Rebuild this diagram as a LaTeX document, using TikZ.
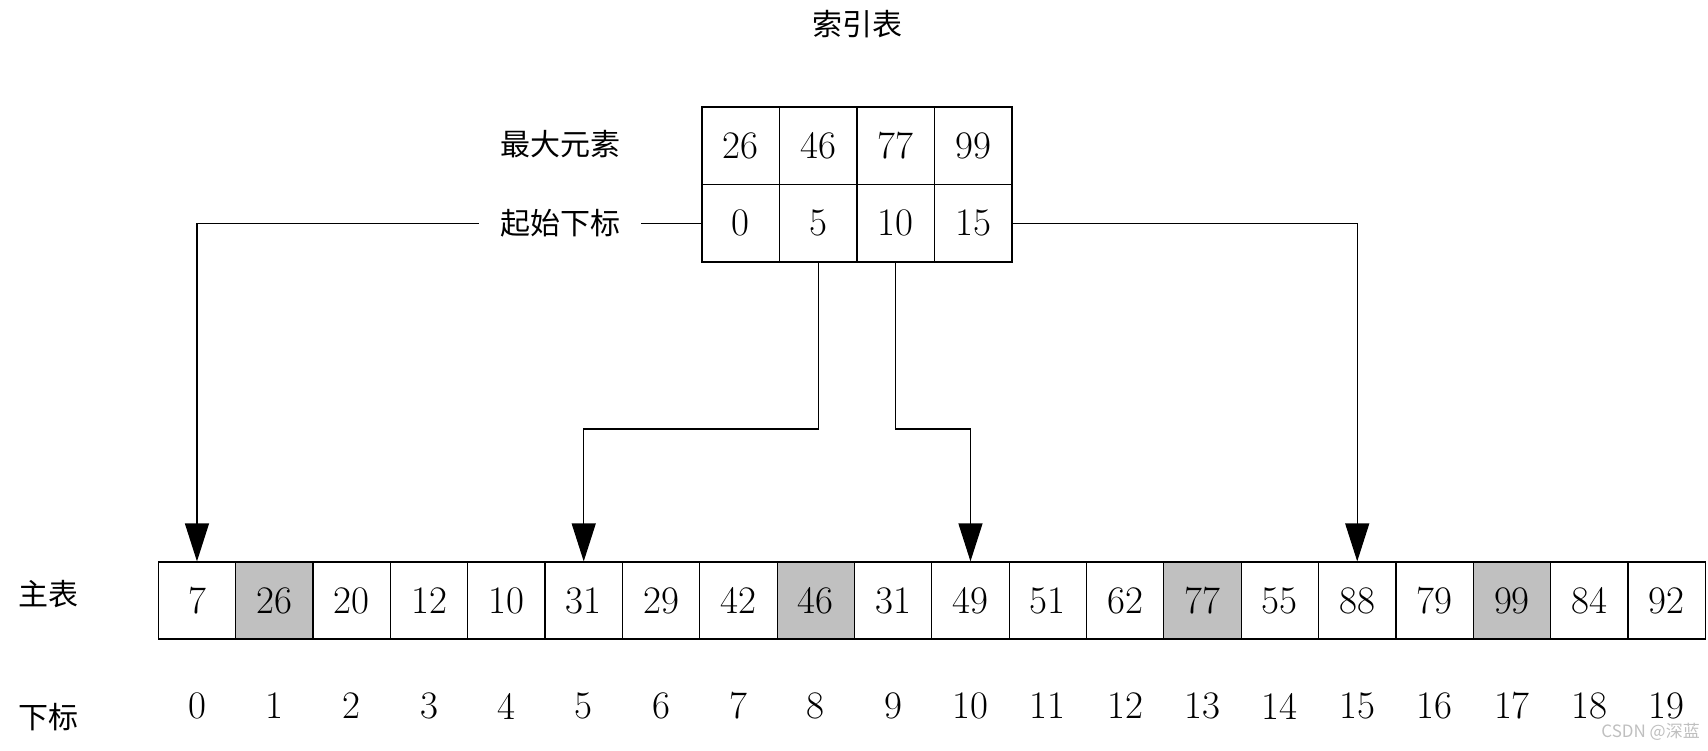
\documentclass[tikz,border=0pt]{standalone}
\usepackage{fontspec}
\newfontfamily\cjk{Noto Sans CJK SC}
\usetikzlibrary{arrows.meta,calc}
\definecolor{cellgray}{HTML}{C0C0C0}
\begin{document}
\begin{tikzpicture}[x=1pt,y=-1pt,
  cell/.style={draw=black,line width=1.2pt,minimum width=77.35pt,minimum height=77pt,inner sep=0pt,font=\fontsize{39}{39}\selectfont},
  icell/.style={draw=black,line width=1.2pt,minimum width=77.5pt,minimum height=77.5pt,inner sep=0pt,font=\fontsize{39}{39}\selectfont},
  num/.style={inner sep=0pt,font=\fontsize{39}{39}\selectfont},
  lab/.style={inner sep=0pt,font=\cjk\fontsize{30}{30}\selectfont},
  conn/.style={line width=1.2pt},
  arr/.style={conn,-{Triangle[width=24pt,length=38pt]}}]
\useasboundingbox (0,0) rectangle (1708,751);
% title
\node[lab] (title) at (857,24) {索引表};
% index table
\foreach \v [count=\j from 0] in {26,46,77,99}
  \node[icell] (k\j) at ({702+(\j+0.5)*77.5},145.8) {\v};
\foreach \v [count=\j from 0] in {0,5,10,15}
  \node[icell] (s\j) at ({702+(\j+0.5)*77.5},223.3) {\v};
\node[lab] (maxl) at (560,144) {最大元素};
\node[lab,inner xsep=21pt] (startl) at (560,223.3) {起始下标};
% main table
\foreach \v/\f [count=\i from 0] in {7/white,26/cellgray,20/white,12/white,10/white,31/white,29/white,42/white,46/cellgray,31/white,49/white,51/white,62/white,77/cellgray,55/white,88/white,79/white,99/cellgray,84/white,92/white}
  \node[cell,fill=\f] (m\i) at ({158.3+(\i+0.5)*77.35},600.5) {\v};
\foreach \i in {0,...,19}
  \node[num] (d\i) at ({158.3+(\i+0.5)*77.35},706) {\i};
\node[lab] (mainl) at (49,594) {主表};
\node[lab] (idxl) at (49,717) {下标};
% connectors
\coordinate (mid) at (0,429);
\draw[conn] (s0.west) -- (startl.east);
\draw[arr] (startl.west) -| (m0.north);
\draw[arr] (s1.south) -- (s1.south |- mid) -| (m5.north);
\draw[arr] (s2.south) -- (s2.south |- mid) -| (m10.north);
\draw[arr] (s3.east) -| (m15.north);
% watermark
\node[inner sep=0pt,text=black!25,font=\cjk\fontsize{17}{17}\selectfont,anchor=east] (wm) at (1700,732) {CSDN @深蓝};
\end{tikzpicture}
\end{document}
